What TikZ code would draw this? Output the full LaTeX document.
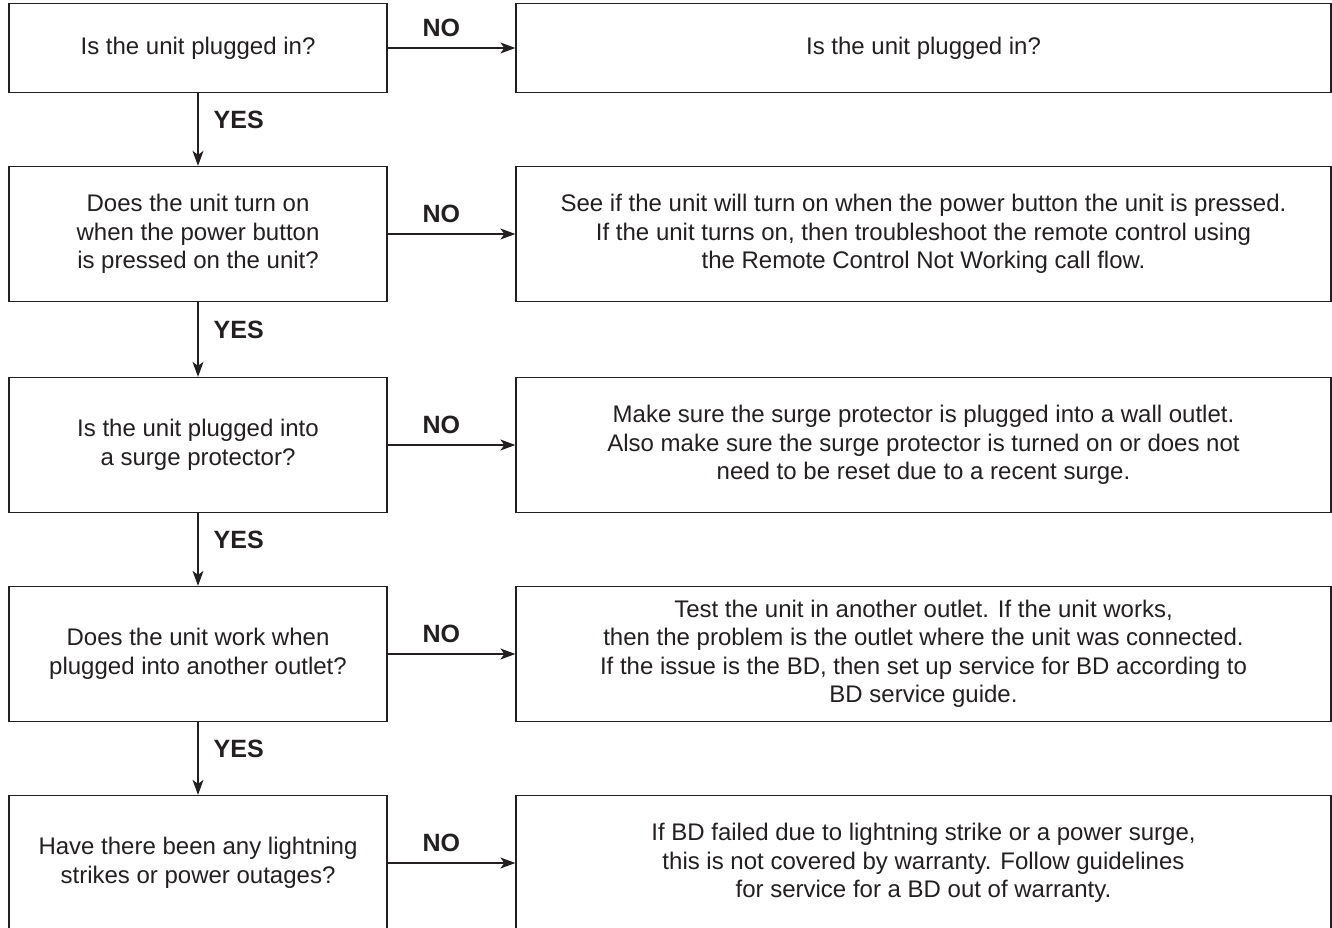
\documentclass[tikz,border=0pt]{standalone}
\usepackage{fontspec}
\setmainfont{Liberation Sans}
\usetikzlibrary{arrows.meta}
\definecolor{ink}{HTML}{231F20}
\tikzset{every path/.style={ink,line width=1.3pt},
  question/.style={draw=ink,line width=1.3pt,minimum width=378pt,minimum height=135pt,inner sep=0pt,
    align=center,text=ink,font=\fontsize{24}{28.5}\selectfont},
  answer/.style={question,minimum width=815pt},
  flow/.style={-{Stealth[length=15pt,width=11pt,inset=4pt]}},
  tag/.style={text=ink,inner sep=0pt,font=\fontsize{25}{30}\selectfont\bfseries},
  yes/.style={tag,pos=0.37,anchor=west,xshift=15pt},
  no/.style={tag,pos=0.42,anchor=south,yshift=11pt}}

\begin{document}
\begin{tikzpicture}[x=1pt,y=-1pt]
  \useasboundingbox (0,0) rectangle (1332,928);
  % questions
  \node[question,minimum height=89pt] (plug) at (198,48) {Is the unit plugged in?};
  \node[question] (power) at (198,234) {Does the unit turn on\\when the power button\\is pressed on the unit?};
  \node[question] (surge) at (198,445) {Is the unit plugged into\\a surge protector?};
  \node[question] (outlet) at (198,654) {Does the unit work when\\plugged into another outlet?};
  \node[question] (storm) at (198,863) {Have there been any lightning\\strikes or power outages?};
  % answers
  \node[answer,minimum height=89pt] (plugA) at (923.5,48) {Is the unit plugged in?};
  \node[answer] (powerA) at (923.5,234) {See if the unit will turn on when the power button the unit is pressed.\\If the unit turns on, then troubleshoot the remote control using\\the Remote Control Not Working call flow.};
  \node[answer] (surgeA) at (923.5,445) {Make sure the surge protector is plugged into a wall outlet.\\Also make sure the surge protector is turned on or does not\\need to be reset due to a recent surge.};
  \node[answer] (outletA) at (923.5,654) {Test the unit in another outlet. If the unit works,\\then the problem is the outlet where the unit was connected.\\If the issue is the BD, then set up service for BD according to\\BD service guide.};
  \node[answer] (stormA) at (923.5,863) {If BD failed due to lightning strike or a power surge,\\this is not covered by warranty. Follow guidelines\\for service for a BD out of warranty.};

  \draw[flow] (plug) -- node[no] (no1) {NO} (plugA);
  \draw[flow] (power) -- node[no] (no2) {NO} (powerA);
  \draw[flow] (surge) -- node[no] (no3) {NO} (surgeA);
  \draw[flow] (outlet) -- node[no] (no4) {NO} (outletA);
  \draw[flow] (storm) -- node[no] (no5) {NO} (stormA);

  \draw[flow] (plug) -- node[yes] (yes1) {YES} (power);
  \draw[flow] (power) -- node[yes] (yes2) {YES} (surge);
  \draw[flow] (surge) -- node[yes] (yes3) {YES} (outlet);
  \draw[flow] (outlet) -- node[yes] (yes4) {YES} (storm);
\end{tikzpicture}
\end{document}
